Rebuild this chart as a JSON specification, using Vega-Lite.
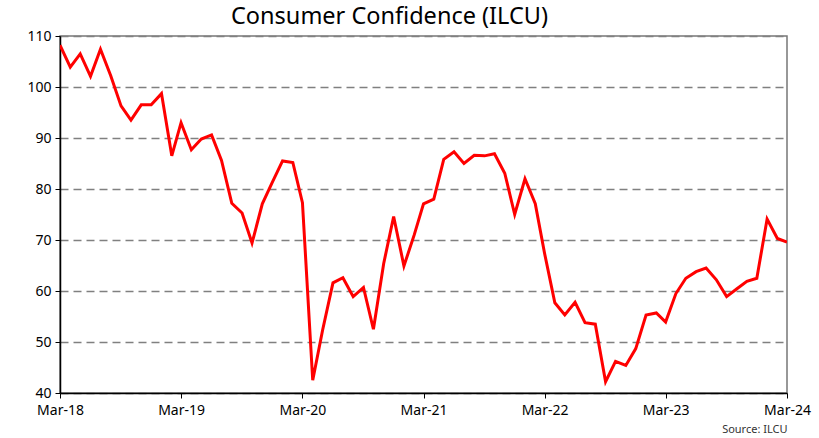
{
  "$schema": "https://vega.github.io/schema/vega-lite/v6.json",
  "autosize": "none",
  "width": 727,
  "height": 357,
  "padding": {"left": 60, "right": 32, "top": 36, "bottom": 45},
  "background": "white",
  "title": {
    "text": "Consumer Confidence (ILCU)",
    "font": "Noto Sans",
    "fontSize": 23.5,
    "fontWeight": "normal",
    "color": "black",
    "anchor": "middle",
    "dx": -34,
    "offset": 1
  },
  "config": {
    "view": {"stroke": "#777777", "strokeWidth": 1.5},
    "font": "Noto Sans"
  },
  "data": {
    "values": [
      {"month": "2018-03-01", "value": 108.2},
      {"month": "2018-04-01", "value": 103.9},
      {"month": "2018-05-01", "value": 106.5},
      {"month": "2018-06-01", "value": 102.1},
      {"month": "2018-07-01", "value": 107.4},
      {"month": "2018-08-01", "value": 102.2},
      {"month": "2018-09-01", "value": 96.3},
      {"month": "2018-10-01", "value": 93.5},
      {"month": "2018-11-01", "value": 96.5},
      {"month": "2018-12-01", "value": 96.5},
      {"month": "2019-01-01", "value": 98.7},
      {"month": "2019-02-01", "value": 86.5},
      {"month": "2019-03-01", "value": 93.0},
      {"month": "2019-04-01", "value": 87.7},
      {"month": "2019-05-01", "value": 89.8},
      {"month": "2019-06-01", "value": 90.6},
      {"month": "2019-07-01", "value": 85.6},
      {"month": "2019-08-01", "value": 77.2},
      {"month": "2019-09-01", "value": 75.3},
      {"month": "2019-10-01", "value": 69.4},
      {"month": "2019-11-01", "value": 77.1},
      {"month": "2019-12-01", "value": 81.3},
      {"month": "2020-01-01", "value": 85.5},
      {"month": "2020-02-01", "value": 85.2},
      {"month": "2020-03-01", "value": 77.3},
      {"month": "2020-04-01", "value": 42.5},
      {"month": "2020-05-01", "value": 52.4},
      {"month": "2020-06-01", "value": 61.6},
      {"month": "2020-07-01", "value": 62.6},
      {"month": "2020-08-01", "value": 58.9},
      {"month": "2020-09-01", "value": 60.7},
      {"month": "2020-10-01", "value": 52.5},
      {"month": "2020-11-01", "value": 65.4},
      {"month": "2020-12-01", "value": 74.6},
      {"month": "2021-01-01", "value": 64.9},
      {"month": "2021-02-01", "value": 71.0},
      {"month": "2021-03-01", "value": 77.1},
      {"month": "2021-04-01", "value": 78.0},
      {"month": "2021-05-01", "value": 85.8},
      {"month": "2021-06-01", "value": 87.3},
      {"month": "2021-07-01", "value": 85.0},
      {"month": "2021-08-01", "value": 86.6},
      {"month": "2021-09-01", "value": 86.5},
      {"month": "2021-10-01", "value": 86.9},
      {"month": "2021-11-01", "value": 83.1},
      {"month": "2021-12-01", "value": 75.0},
      {"month": "2022-01-01", "value": 82.0},
      {"month": "2022-02-01", "value": 77.1},
      {"month": "2022-03-01", "value": 67.4},
      {"month": "2022-04-01", "value": 57.7},
      {"month": "2022-05-01", "value": 55.3},
      {"month": "2022-06-01", "value": 57.8},
      {"month": "2022-07-01", "value": 53.8},
      {"month": "2022-08-01", "value": 53.5},
      {"month": "2022-09-01", "value": 42.2},
      {"month": "2022-10-01", "value": 46.2},
      {"month": "2022-11-01", "value": 45.4},
      {"month": "2022-12-01", "value": 48.7},
      {"month": "2023-01-01", "value": 55.3},
      {"month": "2023-02-01", "value": 55.7},
      {"month": "2023-03-01", "value": 53.9},
      {"month": "2023-04-01", "value": 59.5},
      {"month": "2023-05-01", "value": 62.5},
      {"month": "2023-06-01", "value": 63.8},
      {"month": "2023-07-01", "value": 64.5},
      {"month": "2023-08-01", "value": 62.2},
      {"month": "2023-09-01", "value": 58.9},
      {"month": "2023-10-01", "value": 60.4},
      {"month": "2023-11-01", "value": 61.9},
      {"month": "2023-12-01", "value": 62.5},
      {"month": "2024-01-01", "value": 74.1},
      {"month": "2024-02-01", "value": 70.3},
      {"month": "2024-03-01", "value": 69.6}
    ]
  },
  "mark": {"type": "line", "color": "#FF0000", "strokeWidth": 3, "strokeJoin": "miter", "clip": true},
  "encoding": {
    "x": {
      "field": "month",
      "type": "temporal",
      "scale": {
        "type": "utc",
        "domain": [
          {"year": 2018, "month": 3, "date": 1, "utc": true},
          {"year": 2024, "month": 3, "date": 1, "utc": true}
        ]
      },
      "axis": {
        "values": [
          {"year": 2018, "month": 3, "date": 1, "utc": true},
          {"year": 2019, "month": 3, "date": 1, "utc": true},
          {"year": 2020, "month": 3, "date": 1, "utc": true},
          {"year": 2021, "month": 3, "date": 1, "utc": true},
          {"year": 2022, "month": 3, "date": 1, "utc": true},
          {"year": 2023, "month": 3, "date": 1, "utc": true},
          {"year": 2024, "month": 3, "date": 1, "utc": true}
        ],
        "format": "%b-%y",
        "grid": false,
        "domainColor": "black",
        "domainWidth": 1.5,
        "tickColor": "black",
        "tickWidth": 1,
        "tickSize": 5,
        "labelFontSize": 14,
        "labelColor": "black",
        "labelPadding": 5,
        "labelFlush": false,
        "labelOverlap": false,
        "title": "Source: ILCU",
        "titleAnchor": "end",
        "titleFontSize": 11,
        "titleFontWeight": "normal",
        "titleColor": "#333333",
        "titlePadding": 6
      }
    },
    "y": {
      "field": "value",
      "type": "quantitative",
      "scale": {"domain": [40, 110], "nice": false, "zero": false},
      "axis": {
        "values": [40, 50, 60, 70, 80, 90, 100, 110],
        "title": null,
        "grid": true,
        "gridColor": "#808080",
        "gridDash": [8, 5],
        "gridWidth": 1.5,
        "domainColor": "black",
        "domainWidth": 1.5,
        "tickColor": "black",
        "tickSize": 5,
        "labelFontSize": 14,
        "labelColor": "black",
        "labelPadding": 4
      }
    }
  }
}
